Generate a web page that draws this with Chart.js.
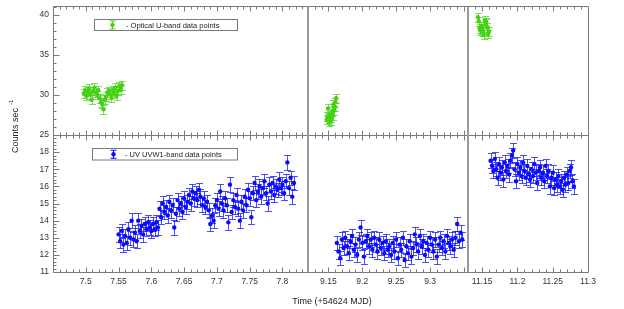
<!DOCTYPE html>
<html>
<head>
<meta charset="utf-8">
<script src="https://cdn.jsdelivr.net/npm/chart.js@4.4.1/dist/chart.umd.min.js"></script>
<style>
  html, body { margin: 0; padding: 0; background: #fff; }
  #wrap { width: 624px; height: 309px; }
</style>
</head>
<body>
<div id="wrap"><canvas id="lightCurve" width="624" height="309"></canvas></div>
<script>
// Optical U-band (top panel), one array pair per time window
const uTime1 = [7.497, 7.499, 7.501, 7.503, 7.505, 7.507, 7.509, 7.511, 7.513, 7.515, 7.517, 7.519, 7.521, 7.523, 7.525,
    7.527, 7.529, 7.531, 7.533, 7.535, 7.537, 7.539, 7.541, 7.543, 7.545, 7.547, 7.549, 7.551, 7.553, 7.555];
const uRate1 = [30.2, 30.6, 29.9, 30.4, 30.8, 30.1, 29.4, 30.5, 30.9, 30.3, 30.0, 30.6, 29.6, 29.1, 28.9,
    28.2, 29.4, 29.8, 30.3, 30.5, 30.1, 29.7, 30.6, 30.2, 30.9, 29.9, 30.5, 31.1, 30.7, 31.2];
const uTime2 = [9.1475, 9.1485, 9.1495, 9.1505, 9.1515, 9.1525, 9.1535, 9.1545, 9.1555, 9.1565, 9.1575, 9.1585, 9.1595, 9.1605, 9.1615];
const uRate2 = [26.9, 27.3, 28.3, 26.7, 27.0, 27.5, 26.8, 27.2, 27.9, 27.4, 28.8, 28.1, 28.5, 29.1, 29.6];
const uTime3 = [11.1440, 11.1452, 11.1464, 11.1476, 11.1488, 11.1500, 11.1512, 11.1524, 11.1536, 11.1548, 11.1560, 11.1572, 11.1584, 11.1596];
const uRate3 = [39.7, 39.2, 38.3, 38.0, 38.6, 38.2, 37.9, 37.5, 39.3, 38.9, 39.1, 38.4, 37.6, 37.9];
const uErr = 0.55;

// UV UVW1-band (bottom panel)
const wTime1 = [7.5500, 7.5525, 7.5550, 7.5575, 7.5600, 7.5625, 7.5650, 7.5675, 7.5700, 7.5725, 7.5750, 7.5775,
    7.5800, 7.5825, 7.5850, 7.5875, 7.5900, 7.5925, 7.5950, 7.5975, 7.6000, 7.6025, 7.6050, 7.6075,
    7.6100, 7.6125, 7.6150, 7.6175, 7.6200, 7.6225, 7.6250, 7.6275, 7.6300, 7.6325, 7.6350, 7.6375,
    7.6400, 7.6425, 7.6450, 7.6475, 7.6500, 7.6525, 7.6550, 7.6575, 7.6600, 7.6625, 7.6650, 7.6675,
    7.6700, 7.6725, 7.6750, 7.6775, 7.6800, 7.6825, 7.6850, 7.6875, 7.6900, 7.6925, 7.6950, 7.6975,
    7.7000, 7.7025, 7.7050, 7.7075, 7.7100, 7.7125, 7.7150, 7.7175, 7.7200, 7.7225, 7.7250, 7.7275,
    7.7300, 7.7325, 7.7350, 7.7375, 7.7400, 7.7425, 7.7450, 7.7475, 7.7500, 7.7525, 7.7550, 7.7575,
    7.7600, 7.7625, 7.7650, 7.7675, 7.7700, 7.7725, 7.7750, 7.7775, 7.7800, 7.7825, 7.7850, 7.7875,
    7.7900, 7.7925, 7.7950, 7.7975, 7.8000, 7.8025, 7.8050, 7.8075, 7.8100, 7.8125, 7.8150, 7.8175];
const wRate1 = [13.2, 12.8, 13.4, 12.6, 13.1, 12.7, 13.5, 13.0, 14.0, 12.9, 13.3, 12.8,
    14.0, 13.4, 13.7, 13.2, 13.8, 13.5, 13.9, 13.6, 13.4, 13.8, 13.5, 13.9,
    13.6, 14.7, 14.2, 15.0, 14.5, 14.8, 14.3, 15.1, 14.6, 14.9, 13.6, 14.4,
    15.2, 14.7, 15.0, 14.5, 15.3, 14.8, 15.1, 15.5, 15.0, 15.7, 15.3, 15.6,
    15.2, 15.8, 15.4, 14.9, 15.3, 14.8, 15.1, 14.6, 13.8, 14.3, 14.0, 14.9,
    15.2, 14.7, 15.7, 15.0, 14.6, 15.3, 14.9, 13.9, 16.1, 14.5, 15.2, 14.8,
    15.5, 14.7, 14.0, 15.1, 14.6, 15.4, 14.9, 15.8, 15.3, 14.2, 15.6, 16.2,
    15.2, 15.7, 16.0, 15.4, 15.9, 16.3, 15.6, 15.0, 16.1, 15.7, 16.2, 15.5,
    16.0, 15.8, 16.4, 15.9, 16.1, 15.6, 16.3, 17.4, 15.9, 16.5, 15.4, 16.2];
const wTime2 = [9.1625, 9.1650, 9.1675, 9.1700, 9.1725, 9.1750, 9.1775, 9.1800, 9.1825, 9.1850, 9.1875, 9.1900,
    9.1925, 9.1950, 9.1975, 9.2000, 9.2025, 9.2050, 9.2075, 9.2100, 9.2125, 9.2150, 9.2175, 9.2200,
    9.2225, 9.2250, 9.2275, 9.2300, 9.2325, 9.2350, 9.2375, 9.2400, 9.2425, 9.2450, 9.2475, 9.2500,
    9.2525, 9.2550, 9.2575, 9.2600, 9.2625, 9.2650, 9.2675, 9.2700, 9.2725, 9.2750, 9.2775, 9.2800,
    9.2825, 9.2850, 9.2875, 9.2900, 9.2925, 9.2950, 9.2975, 9.3000, 9.3025, 9.3050, 9.3075, 9.3100,
    9.3125, 9.3150, 9.3175, 9.3200, 9.3225, 9.3250, 9.3275, 9.3300, 9.3325, 9.3350, 9.3375, 9.3400,
    9.3425, 9.3450, 9.3475];
const wRate2 = [12.7, 12.2, 11.8, 12.9, 12.4, 13.0, 12.5, 12.1, 12.8, 13.1, 12.3, 12.6,
    12.0, 12.9, 13.6, 12.7, 11.9, 12.8, 13.1, 12.5, 12.9, 12.3, 13.0, 12.6,
    12.2, 12.9, 12.4, 12.7, 12.1, 12.8, 12.3, 12.5, 12.0, 12.7, 12.2, 12.9,
    11.8, 12.6, 12.3, 13.0, 11.7, 12.5, 12.1, 12.8, 11.9, 12.4, 13.2, 12.6,
    12.2, 13.1, 12.5, 12.8, 12.0, 12.7, 12.3, 13.0, 12.6, 12.2, 12.9, 11.9,
    12.6, 13.0, 12.4, 12.8, 12.2, 13.1, 12.7, 12.5, 12.9, 12.3, 13.0, 13.8,
    12.8, 13.3, 12.9];
const wTime3 = [11.162, 11.164, 11.166, 11.168, 11.170, 11.172, 11.174, 11.176, 11.178, 11.180, 11.182, 11.184,
    11.186, 11.188, 11.190, 11.192, 11.194, 11.196, 11.198, 11.200, 11.202, 11.204, 11.206, 11.208,
    11.210, 11.212, 11.214, 11.216, 11.218, 11.220, 11.222, 11.224, 11.226, 11.228, 11.230, 11.232,
    11.234, 11.236, 11.238, 11.240, 11.242, 11.244, 11.246, 11.248, 11.250, 11.252, 11.254, 11.256,
    11.258, 11.260, 11.262, 11.264, 11.266, 11.268, 11.270, 11.272, 11.274, 11.276, 11.278, 11.280];
const wRate3 = [17.5, 17.2, 16.9, 17.6, 17.0, 16.5, 17.3, 16.8, 17.1, 16.4, 17.4, 16.9,
    17.2, 16.7, 17.5, 17.8, 18.1, 17.0, 16.3, 17.3, 16.8, 17.1, 16.6, 17.4,
    16.9, 16.5, 17.2, 16.7, 16.4, 17.0, 16.6, 17.3, 16.8, 16.2, 16.9, 17.1,
    16.5, 16.8, 16.3, 17.2, 16.6, 16.9, 16.0, 16.5, 16.8, 15.9, 16.4, 16.1,
    16.6, 16.0, 16.3, 15.8, 16.5, 16.1, 16.7, 16.2, 16.9, 17.1, 16.3, 16.0];
const wErr = 0.42;

// tick labels
const xLabels1 = [7.5, 7.55, 7.6, 7.65, 7.7, 7.75, 7.8];
const xLabels2 = [9.15, 9.2, 9.25, 9.3];
const xLabels3 = [11.15, 11.2, 11.25, 11.3];
const yLabelsTop = [25, 30, 35, 40];
const yLabelsBottom = [11, 12, 13, 14, 15, 16, 17, 18];

const FONT = 'Liberation Sans, Arial, Helvetica, sans-serif';
const GREEN = '#45d014';
const BLUE = '#0a0aff';
const FRAME = '#7a7a7a';

function points(times, rates, err) {
    return times.map((t, i) => ({ x: t, y: rates[i], err: err }));
}

function fixedTicks(labels) {
    return scale => { scale.ticks = labels.map(v => ({ value: v })); };
}

function xScale(min, max, weight, labels) {
    return {
        type: 'linear', position: 'bottom', stack: 'time', stackWeight: weight,
        min: min, max: max,
        afterBuildTicks: fixedTicks(labels),
        afterFit: s => { s.height = 37; s.paddingLeft = 0; s.paddingRight = 0; },
        grid: { display: false, drawTicks: false },
        border: { display: false },
        ticks: { font: { family: FONT, size: 8.5 }, color: '#333', padding: 5, maxRotation: 0,
            autoSkip: false, callback: v => String(v) }
    };
}

function yScale(min, max, weight, labels) {
    return {
        type: 'linear', position: 'left', stack: 'rate', stackWeight: weight,
        min: min, max: max,
        afterBuildTicks: fixedTicks(labels),
        afterFit: s => { s.width = 53; s.paddingTop = 0; s.paddingBottom = 0; },
        grid: { display: false, drawTicks: false },
        border: { display: false },
        ticks: { font: { family: FONT, size: 8.5 }, color: '#333', padding: 4, autoSkip: false }
    };
}

function series(data, xId, yId, color, barColor) {
    return {
        data: data, xAxisID: xId, yAxisID: yId,
        backgroundColor: color, borderWidth: 0,
        pointRadius: 2.2, pointHoverRadius: 2.2, barColor: barColor
    };
}

// error bars drawn under the markers, from each point's scales
const errorBars = {
    id: 'errorBars',
    beforeDatasetsDraw(chart) {
        const ctx = chart.ctx;
        chart.data.datasets.forEach(ds => {
            const xs = chart.scales[ds.xAxisID];
            const ys = chart.scales[ds.yAxisID];
            ctx.save();
            ctx.strokeStyle = ds.barColor;
            ctx.lineWidth = 1;
            ctx.beginPath();
            ds.data.forEach(p => {
                const x = Math.round(xs.getPixelForValue(p.x)) + 0.5;
                const y1 = Math.round(ys.getPixelForValue(p.y - p.err)) + 0.5;
                const y2 = Math.round(ys.getPixelForValue(p.y + p.err)) + 0.5;
                ctx.moveTo(x, y1); ctx.lineTo(x, y2);
                ctx.moveTo(x - 3.5, y1); ctx.lineTo(x + 3.5, y1);
                ctx.moveTo(x - 3.5, y2); ctx.lineTo(x + 3.5, y2);
            });
            ctx.stroke();
            ctx.restore();
        });
    }
};

// frame, panel separators, inward ticks, legends and titles
const frame = {
    id: 'frame',
    afterDraw(chart) {
        const ctx = chart.ctx;
        const ca = chart.chartArea;
        const s = chart.scales;
        const mid = Math.round(s.yTop.bottom) + 0.5;
        const L = Math.round(ca.left) + 0.5, R = Math.round(ca.right) + 0.5;
        const T = Math.round(ca.top) + 0.5, B = Math.round(ca.bottom) + 0.5;
        ctx.save();
        ctx.strokeStyle = FRAME;
        ctx.lineWidth = 1;
        ctx.beginPath();
        ctx.rect(L, T, R - L, B - T);
        ctx.moveTo(L, mid); ctx.lineTo(R, mid);

        // x ticks, minor every 0.01, major every 0.05
        ['x1', 'x2', 'x3'].forEach(id => {
            const sc = s[id];
            for (let k = Math.ceil(sc.min * 100 - 1e-6); k <= sc.max * 100 + 1e-6; k++) {
                const px = Math.round(sc.getPixelForValue(k / 100)) + 0.5;
                if (px < sc.left + 1 || px > sc.right - 1) continue;
                const len = k % 5 === 0 ? 5 : 3;
                ctx.moveTo(px, B); ctx.lineTo(px, B - len);
                ctx.moveTo(px, mid - len); ctx.lineTo(px, mid + len);
                ctx.moveTo(px, T); ctx.lineTo(px, T + len);
            }
        });
        // y ticks
        const yt = s.yTop;
        for (let v = 25; v <= yt.max; v++) {
            const py = Math.round(yt.getPixelForValue(v)) + 0.5;
            const len = v % 5 === 0 ? 6 : 3;
            ctx.moveTo(L, py); ctx.lineTo(L + len, py);
        }
        const yb = s.yBot;
        for (let k = 55; k <= yb.max * 5; k++) {
            const py = Math.round(yb.getPixelForValue(k / 5)) + 0.5;
            const len = k % 5 === 0 ? 6 : 3;
            ctx.moveTo(L, py); ctx.lineTo(L + len, py);
        }
        ctx.stroke();

        // broken-axis separators
        ctx.strokeStyle = '#9a9a9a';
        ctx.lineWidth = 2;
        ctx.beginPath();
        [s.x1.right, s.x2.right].forEach(x => {
            const px = Math.round(x);
            ctx.moveTo(px, T); ctx.lineTo(px, B);
        });
        ctx.stroke();

        // legends
        const legends = [
            { box: [94.5, 19.5, 143, 11], mx: 112.5, color: GREEN, text: '- Optical U-band data points', tx: 126 },
            { box: [92.5, 148.5, 145, 11.5], mx: 113.5, color: BLUE, text: '- UV UVW1-band data points', tx: 125 }
        ];
        legends.forEach(lg => {
            const [bx, by, bw, bh] = lg.box;
            const cy = by + bh / 2;
            ctx.strokeStyle = FRAME;
            ctx.lineWidth = 1;
            ctx.strokeRect(bx, by, bw, bh);
            ctx.strokeStyle = lg.color;
            ctx.beginPath();
            ctx.moveTo(lg.mx, cy - 4); ctx.lineTo(lg.mx, cy + 4);
            ctx.moveTo(lg.mx - 3, cy - 4); ctx.lineTo(lg.mx + 3, cy - 4);
            ctx.moveTo(lg.mx - 3, cy + 4); ctx.lineTo(lg.mx + 3, cy + 4);
            ctx.stroke();
            ctx.fillStyle = lg.color;
            ctx.beginPath();
            ctx.arc(lg.mx, cy, 2.2, 0, Math.PI * 2);
            ctx.fill();
            ctx.fillStyle = '#222';
            ctx.font = '7.5px ' + FONT;
            ctx.textAlign = 'left';
            ctx.textBaseline = 'middle';
            ctx.fillText(lg.text, lg.tx, cy + 0.5);
        });

        // axis titles
        ctx.fillStyle = '#222';
        ctx.font = '9px ' + FONT;
        ctx.textAlign = 'center';
        ctx.textBaseline = 'middle';
        ctx.fillText('Time (+54624 MJD)', 332, 301.5);

        ctx.translate(18, 153);
        ctx.rotate(-Math.PI / 2);
        ctx.textAlign = 'left';
        ctx.textBaseline = 'alphabetic';
        ctx.fillText('Counts sec', 0, 0);
        const w = ctx.measureText('Counts sec').width;
        ctx.font = '6px ' + FONT;
        ctx.fillText('-1', w + 3, -5);
        ctx.restore();
    }
};

new Chart(document.getElementById('lightCurve'), {
    type: 'scatter',
    data: {
        datasets: [
            series(points(uTime1, uRate1, uErr), 'x1', 'yTop', GREEN, 'rgba(69,208,20,0.7)'),
            series(points(uTime2, uRate2, uErr), 'x2', 'yTop', GREEN, 'rgba(69,208,20,0.7)'),
            series(points(uTime3, uRate3, uErr), 'x3', 'yTop', GREEN, 'rgba(69,208,20,0.7)'),
            series(points(wTime1, wRate1, wErr), 'x1', 'yBot', BLUE, 'rgba(20,20,255,0.75)'),
            series(points(wTime2, wRate2, wErr), 'x2', 'yBot', BLUE, 'rgba(20,20,255,0.75)'),
            series(points(wTime3, wRate3, wErr), 'x3', 'yBot', BLUE, 'rgba(20,20,255,0.75)')
        ]
    },
    options: {
        responsive: false,
        animation: false,
        layout: { padding: { left: 0, top: 6, right: 36, bottom: 0 } },
        plugins: { legend: { display: false }, tooltip: { enabled: false } },
        scales: {
            x1: xScale(7.45, 7.839, 255, xLabels1),
            x2: xScale(9.12, 9.356, 160, xLabels2),
            x3: xScale(11.13, 11.30, 120, xLabels3),
            yBot: yScale(11, 19, 137, yLabelsBottom),
            yTop: yScale(25, 41.1, 129, yLabelsTop)
        }
    },
    plugins: [errorBars, frame]
});
</script>
</body>
</html>
